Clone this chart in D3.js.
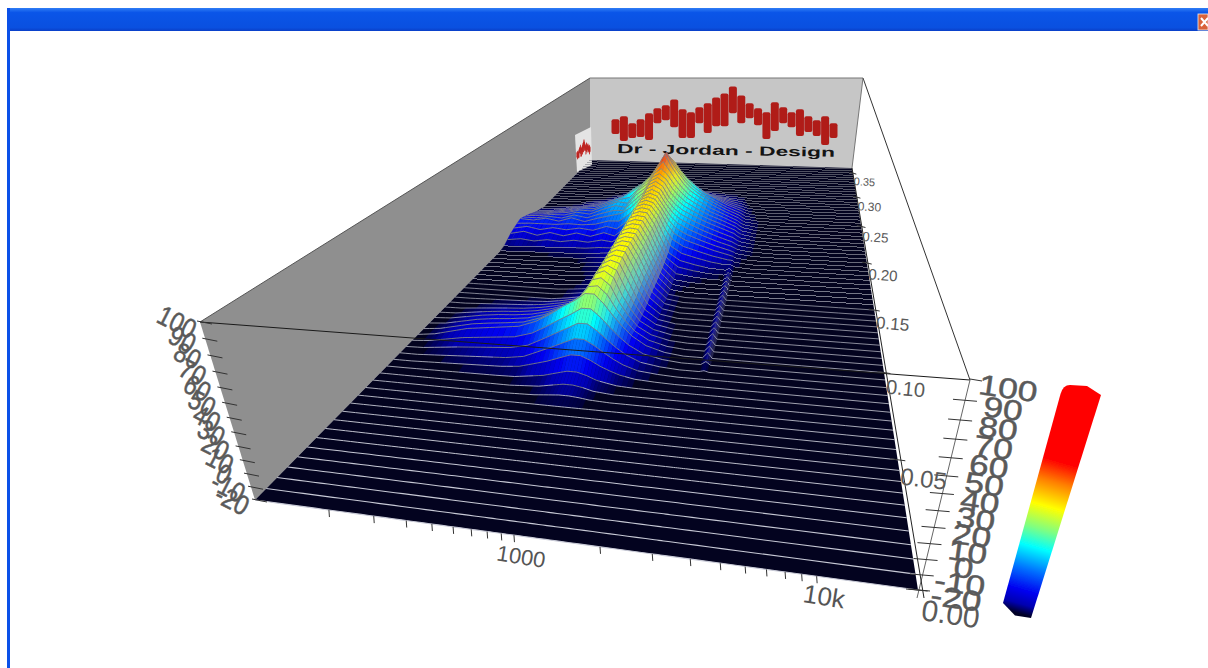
<!DOCTYPE html>
<html>
<head>
<meta charset="utf-8">
<script src="https://cdn.jsdelivr.net/npm/d3@7"></script>
<style>
  html, body { margin: 0; padding: 0; background: #fff; overflow: hidden; }
  text { font-family: "Liberation Sans", Arial, sans-serif; }
</style>
</head>
<body>
<div id="chart"></div>
<script>
var _ = -20;

// table: level (dB) per time slice (rows) and frequency (columns)
var freqColumns = [100, 124, 153, 189, 233, 288, 357, 441, 518, 607, 710, 791, 878, 978, 1085, 1205, 1341, 1574, 1945, 2402, 2966, 3130, 3300, 4077, 5600, 20000];
var sliceTimes = [0.06, 0.073, 0.087, 0.10, 0.113, 0.127, 0.14, 0.153, 0.167, 0.18, 0.193, 0.207, 0.22, 0.233, 0.247, 0.26, 0.273, 0.287, 0.30];
var levelRows = [
  [_, _, _, _, _, _, _, _, _, _, _, _, _, _, _, _, _, _, _, _, _, _, _, _, _, _],
  [_, _, _, _, _, _, _, _, -19, -18, -15, -13, -13, -15, -18, -19, _, _, _, _, _, _, _, _, _, _],
  [_, _, -19, -18, -17, -16, -15, -12, -6, 0, 6, 10, 10, 5, -1, -7, -12, -17, -19, _, _, _, _, _, _, _],
  [_, -18, -14, -10, -8, -6, -4, 2, 9, 17, 24, 30, 30, 22, 12, 3, -5, -13, -18, _, _, -15, _, _, _, _],
  [_, -19, -16, -13, -11, -10, -8, -4, 1, 7, 18, 33, 36, 30, 14, 2, -8, -15, -19, _, _, -15, _, _, _, _],
  [_, _, -19, -18, -17, -16, -14, -11, -8, -4, 6, 33, 37, 35, 20, 4, -8, -17, _, _, _, -15, _, _, _, _],
  [_, _, _, _, _, _, _, -18, -16, -13, 1, 34, 38, 37, 24, 8, -6, -17, _, _, _, -15, _, _, _, _],
  [_, _, _, _, _, _, _, -19, -18, -14, 1, 35, 38, 37, 25, 9, -6, -18, _, _, _, -15, _, _, _, _],
  [_, _, _, _, _, _, _, -19, -18, -13, 3, 36, 39, 38, 26, 10, -5, -17, -19, _, _, -15, _, _, _, _],
  [_, _, _, _, _, _, _, -18, -17, -12, 5, 37, 40, 39, 28, 12, -2, -10, -14, -17, -18, -16, -19, _, _, _],
  [_, _, -19, -19, -18, -18, -17, -16, -15, -8, 10, 38, 41, 39, 30, 16, 6, -1, -6, -11, -15, -16, -18, _, _, _],
  [-10, -6, -11, -6, -10, -5, -9, -3, -7, 3, 18, 38, 42, 39, 28, 18, 11, 5, -2, -8, -13, -15, -17, -19, _, _],
  [-5, -6, -3, -6, -1, -5, 0, 4, 7, 15, 27, 41, 45, 40, 28, 20, 14, 8, 1, -5, -11, -14, -16, -19, _, _],
  [-10, -9, -7, -6, -2, -3, 4, 10, 7, 24, 32, 44, 48, 42, 32, 24, 17, 10, 2, -4, -11, -14, -16, -19, _, _],
  [-17, -16, -14, -11, -8, -5, 2, 8, 17, 24, 36, 48, 62, 48, 38, 28, 20, 12, 3, -5, -12, -15, -17, -19, _, _],
  [_, _, -19, -18, -15, -12, -8, -1, 10, 19, 28, 40, 50, 42, 32, 24, 17, 8, 0, -8, -14, -16, -18, _, _, _],
  [_, _, _, _, -19, -18, -15, -10, -3, 6, 14, 22, 28, 24, 18, 12, 6, -2, -8, -13, -17, -18, -19, _, _, _],
  [_, _, _, _, _, _, -19, -18, -15, -10, -6, -2, 0, -2, -6, -9, -12, -15, -17, -18, -19, _, _, _, _, _],
  [_, _, _, _, _, _, _, _, _, _, _, _, _, _, _, _, _, _, _, _, _, _, _, _, _, _]
];

// axes
var levelTicks = [100, 90, 80, 70, 60, 50, 40, 30, 20, 10, 0, -10, -20];
var timeTicks = [0.05, 0.10, 0.15, 0.20, 0.25, 0.30, 0.35];
var timeLabels = ["0.05", "0.10", "0.15", "0.20", "0.25", "0.30", "0.35"];
var freqTicks = [200, 300, 400, 500, 600, 700, 800, 900, 1000, 2000, 3000, 4000, 5000, 6000, 7000, 8000, 9000, 10000];
var freqLabels = [[1000, "1000", 22], [10000, "10k", 26]];
var floorTimes = d3.range(0, 73).map(function (i) { return i * 0.005; });

// colour bar
var colorLevels = [-20, -15, -8, 3, 15, 25, 37, 50, 61, 100];
var colorValues = ["#000028", "#0000b0", "#0000f0", "#0070ff", "#00ffff", "#80ff80", "#ffff00", "#ff8000", "#ff0000", "#ff0000"];

// logo on the back wall
var logoBarLow = [11, 4, 7, 8, 5, 22, 25, 18, 7, 7, 22, 12, 19, 19, 32, 22, 27, 20, 6, 14, 22, 18, 9, 13, 9, 0, 7];
var logoBarHigh = [26, 29, 22, 26, 32, 37, 40, 46, 36, 33, 38, 42, 48, 52, 59, 50, 42, 37, 33, 43, 38, 33, 36, 29, 25, 29, 22];
var logoText = "Dr - Jordan - Design";

var svg = d3.select("#chart").append("svg").attr("width", 1208).attr("height", 668);

var defs = svg.append("defs");
defs.append("filter").attr("id", "soft")
  .attr("x", "-5%").attr("y", "-5%").attr("width", "110%").attr("height", "110%")
  .append("feGaussianBlur").attr("stdDeviation", 0.6);
defs.append("filter").attr("id", "softer")
  .append("feGaussianBlur").attr("stdDeviation", 0.45);

var titleGrad = defs.append("linearGradient").attr("id", "titleGrad").attr("x1", 0).attr("y1", 0).attr("x2", 0).attr("y2", 1);
titleGrad.append("stop").attr("offset", 0).attr("stop-color", "#2f7df5");
titleGrad.append("stop").attr("offset", 0.2).attr("stop-color", "#0a55e8");
titleGrad.append("stop").attr("offset", 0.85).attr("stop-color", "#0a50e0");
titleGrad.append("stop").attr("offset", 1).attr("stop-color", "#0a3fc8");

// window frame
svg.append("rect").attr("x", 7).attr("y", 8).attr("width", 1201).attr("height", 23).attr("fill", "url(#titleGrad)");
svg.append("rect").attr("x", 7).attr("y", 8).attr("width", 3).attr("height", 660).attr("fill", "#0a50e8");
svg.append("rect").attr("x", 1198).attr("y", 14).attr("width", 10).attr("height", 16).attr("fill", "#d9623a").attr("stroke", "#eee").attr("stroke-width", 0.8);
svg.append("path").attr("d", "M1201,18L1208,26M1208,18L1201,26").attr("stroke", "#fff").attr("stroke-width", 2);

// scales
var uScale = d3.scaleLog().domain([100, 20000]).range([0, 1]);
var vScale = d3.scaleLinear().domain([0, 0.362]).range([0, 1]);
var zScale = d3.scaleLinear().domain([-20, 100]).range([0, 1]);
var colorScale = d3.scaleLinear().domain(colorLevels).range(colorValues).clamp(true);

// maps the unit square onto a screen quad
function quadMap(p00, p10, p11, p01) {
  var dx1 = p10[0] - p11[0], dx2 = p01[0] - p11[0], sx = p00[0] - p10[0] + p11[0] - p01[0];
  var dy1 = p10[1] - p11[1], dy2 = p01[1] - p11[1], sy = p00[1] - p10[1] + p11[1] - p01[1];
  var det = dx1 * dy2 - dx2 * dy1;
  var g = (sx * dy2 - dx2 * sy) / det, h = (dx1 * sy - sx * dy1) / det;
  var a = p10[0] - p00[0] + g * p10[0], b = p01[0] - p00[0] + h * p01[0];
  var d = p10[1] - p00[1] + g * p10[1], e = p01[1] - p00[1] + h * p01[1];
  return function (u, v) {
    var w = g * u + h * v + 1;
    return [(a * u + b * v + p00[0]) / w, (d * u + e * v + p00[1]) / w];
  };
}

var floorAt = quadMap([255, 500], [918, 590], [852, 168], [590, 160]);
var roofAt = quadMap([200, 322], [970, 380], [863, 78], [590, 78]);

function project(freq, time, level) {
  var u = uScale(freq), v = vScale(time), s = zScale(level);
  var f = floorAt(u, v), r = roofAt(u, v);
  var k = s * 0.85 / (s * 0.85 + 1 - s);
  return [f[0] + (r[0] - f[0]) * k, f[1] + (r[1] - f[1]) * k];
}

// corner points
var maxTime = vScale.domain()[1], minFreq = 100, maxFreq = 20000;
var FL = project(minFreq, 0, -20), FR = project(maxFreq, 0, -20), BR = project(maxFreq, maxTime, -20), BL = project(minFreq, maxTime, -20);
var TFL = project(minFreq, 0, 100), TFR = project(maxFreq, 0, 100), TBR = project(maxFreq, maxTime, 100), TBL = project(minFreq, maxTime, 100);

var polygon = d3.line();

// walls and floor
svg.append("path").attr("d", polygon([TFL, TBL, BL, FL]) + "Z").attr("fill", "#8f8f8f");
svg.append("path").attr("d", polygon([TBL, TBR, BR, BL]) + "Z").attr("fill", "#c6c6c6");
svg.append("path").attr("d", polygon([FL, FR, BR, BL]) + "Z").attr("fill", "#03031f");

// logo
var logo = svg.append("g").attr("id", "logo");
var logoX = d3.scaleLinear().domain([0, logoBarLow.length - 1]).range([615.5, 833.5]);
var logoY = d3.scaleLinear().domain([0, 60]).range([145, 85.5]);
function drawLogoBars(sel, x, y, w) {
  sel.selectAll("rect.bar")
    .data(logoBarLow)
    .enter()
    .append("rect")
    .attr("class", "bar")
    .attr("x", function (d, i) { return x(i) - w / 2; })
    .attr("width", w)
    .attr("y", function (d, i) { return y(logoBarHigh[i]); })
    .attr("height", function (d, i) { return y(d) - y(logoBarHigh[i]); })
    .attr("rx", w * 0.25)
    .attr("fill", "#b01c18");
}
drawLogoBars(logo, logoX, logoY, 8);
logo.append("text")
  .attr("x", 617)
  .attr("y", 153)
  .attr("transform", "rotate(1 617 153)")
  .attr("textLength", 218)
  .attr("lengthAdjust", "spacingAndGlyphs")
  .attr("font-size", 13)
  .attr("font-weight", "bold")
  .attr("fill", "#141414")
  .text(logoText);

// same logo, small, on the left wall
svg.append("path").attr("d", "M575,135L591,127L592,165L577,172Z").attr("fill", "#e4e4e4");
var miniLogo = svg.append("g").attr("transform", "matrix(0.06 -0.03 0 0.28 540 137.85)");
drawLogoBars(miniLogo, logoX, logoY, 8);
miniLogo.selectAll("rect.bar").attr("stroke", "#c0201c").attr("stroke-width", 6);

// surface, far slices first so the near ones cover them
var uColumns = freqColumns.map(function (f) { return uScale(f); });
var timeIndex = d3.scaleLinear().domain(sliceTimes).range(d3.range(sliceTimes.length)).clamp(true);
var columnAt = freqColumns.map(function (f, j) {
  return d3.piecewise(d3.interpolateNumber, levelRows.map(function (r) { return r[j]; }));
});
function levelAtTime(j, t) { return columnAt[j](timeIndex(t) / (sliceTimes.length - 1)); }

var sampleSteps = 3;
var sampleFreqs = [];
freqColumns.forEach(function (f, j) {
  if (j === freqColumns.length - 1) { sampleFreqs.push({ f: f, j: j, k: 0 }); return; }
  d3.range(sampleSteps).forEach(function (k) {
    sampleFreqs.push({ f: uScale.invert(uColumns[j] + (uColumns[j + 1] - uColumns[j]) * k / sampleSteps), j: j, k: k });
  });
});
function sliceLevels(t) {
  return sampleFreqs.map(function (s) {
    var a = levelAtTime(s.j, t);
    if (s.k === 0) return a;
    return a + (levelAtTime(s.j + 1, t) - a) * s.k / sampleSteps;
  });
}

var surface = svg.append("g").attr("id", "surface").attr("filter", "url(#soft)");
var slices = floorTimes.map(function (t) {
  var lv = sliceLevels(t);
  return { t: t, levels: lv, pts: sampleFreqs.map(function (s, i) { return project(s.f, t, lv[i]); }) };
});

function quadColor(a, b, i) {
  var m = (a.levels[i] + a.levels[i + 1] + b.levels[i] + b.levels[i + 1]) / 4;
  var du = uScale(sampleFreqs[i + 1].f) - uScale(sampleFreqs[i].f);
  var slope = ((a.levels[i + 1] + b.levels[i + 1]) - (a.levels[i] + b.levels[i])) / 2 / du;
  var shade = Math.max(0, Math.min(0.7, (-slope - 300) / 900));
  return d3.interpolateRgb(colorScale(m), "#a8a890")(shade);
}

var hillLimit = -16;
var xOf = function (d) { return d.p[0]; }, yOf = function (d) { return d.p[1]; };
// both lines share the sample where the slice leaves the floor, so there is no gap
var lineHill = d3.line().defined(function (d) { return d.l > hillLimit || d.prev > hillLimit || d.next > hillLimit; }).x(xOf).y(yOf);
var lineFloor = d3.line().defined(function (d) { return d.l <= hillLimit; }).x(xOf).y(yOf);

function depth(t) { return 1 - 0.1661 + 1.4887 * vScale(t); }
var floorLineColor = d3.scaleLinear().domain([0, 0.15, 0.36]).range(["#c8cad6", "#bcbec8", "#80828a"]);

d3.range(slices.length - 1, -1, -1).forEach(function (n) {
  var far = slices[n], near = slices[n - 1];
  var g = surface.append("g");
  if (near) {
    var quads = d3.range(sampleFreqs.length - 1).filter(function (i) {
      return Math.max(far.levels[i], far.levels[i + 1], near.levels[i], near.levels[i + 1]) > -18.5;
    });
    g.selectAll("path.q")
      .data(quads)
      .enter()
      .append("path")
      .attr("class", "q")
      .attr("d", function (i) { return polygon([far.pts[i], far.pts[i + 1], near.pts[i + 1], near.pts[i]]) + "Z"; })
      .attr("fill", function (i) { return quadColor(far, near, i); })
      .attr("stroke", function (i) { return quadColor(far, near, i); })
      .attr("stroke-width", 0.4);
  }
  var row = far.pts.map(function (p, i) {
    return { p: p, l: far.levels[i], prev: far.levels[i - 1], next: far.levels[i + 1] };
  });
  var w = Math.max(0.6, 0.95 / depth(far.t));
  g.append("path").attr("d", lineFloor(row)).attr("fill", "none")
    .attr("stroke", floorLineColor(far.t)).attr("stroke-width", w)
    .attr("shape-rendering", far.t > 0.15 ? "crispEdges" : "auto");
  g.append("path").attr("d", lineHill(row)).attr("fill", "none").attr("stroke", "#7c7e88").attr("stroke-width", 0.9);
});

var axes = svg.append("g").attr("id", "axes");
function seg(a, b, color, width) {
  axes.append("path").attr("d", polygon([a, b])).attr("stroke", color).attr("stroke-width", width).attr("fill", "none");
}

// box edges
seg(TFL, TBL, "#555", 1);
seg(TBL, TBR, "#777", 1);
seg(TFL, TFR, "#1a1a1a", 1);
seg(TBR, TFR, "#333", 1);
seg(TBR, BR, "#777", 1);
seg(TFR, [FR[0] - 1, FR[1] + 8], "#666", 1);
seg(BR, [FR[0] + 6, FR[1] + 8], "#222", 1);

// frequency axis
freqTicks.forEach(function (f) {
  var p = project(f, 0, -20);
  seg(p, [p[0] + 0.5, p[1] + 7], "#333", 1);
});
axes.selectAll("text.freq")
  .data(freqLabels)
  .enter()
  .append("text")
  .attr("class", "freq")
  .attr("text-anchor", "middle")
  .attr("font-size", function (d) { return d[2]; })
  .attr("fill", "#555")
  .attr("transform", function (d) {
    var p = project(d[0], 0, -20);
    return "translate(" + (p[0] + 6) + "," + (p[1] + 29) + ") rotate(9)";
  })
  .text(function (d) { return d[1]; });

// level axes on both sides
levelTicks.forEach(function (l) {
  var a = project(minFreq, 0, l), b = project(maxFreq, 0, l);
  seg([a[0] - 3, a[1] - 1], [a[0] + 12, a[1] + 2], "#333", 1);
  seg([b[0] - (l === 100 ? 0 : 12), b[1] - 1], [b[0] + 12, b[1] + 1], "#333", 1);
});
axes.selectAll("text.lvlL")
  .data(levelTicks)
  .enter()
  .append("text")
  .attr("class", "lvlL")
  .attr("text-anchor", "middle")
  .attr("font-size", 29)
  .attr("fill", "#5a5a5a")
  .attr("stroke", "#5a5a5a")
  .attr("stroke-width", 0.5)
  .attr("transform", function (d) {
    var p = project(minFreq, 0, d);
    return "translate(" + (p[0] - 23) + "," + p[1] + ") rotate(27) scale(0.82,0.95) translate(0,10)";
  })
  .text(function (d) { return d; });
axes.selectAll("text.lvlR")
  .data(levelTicks)
  .enter()
  .append("text")
  .attr("class", "lvlR")
  .attr("text-anchor", "middle")
  .attr("font-size", 31)
  .attr("fill", "#5a5a5a")
  .attr("stroke", "#5a5a5a")
  .attr("stroke-width", 0.5)
  .attr("transform", function (d) {
    var p = project(maxFreq, 0, d);
    return "translate(" + (p[0] + 38) + "," + (p[1] + 9) + ") rotate(8) scale(1.14,0.92) translate(0,10)";
  })
  .text(function (d) { return d; });

// time axis
timeTicks.concat([0]).forEach(function (t) {
  var p = project(maxFreq, t, -20);
  var r = 8 / depth(t);
  seg([p[0] - r, p[1] - 1], [p[0] + r, p[1] + 1], "#333", 1);
});
axes.selectAll("text.time")
  .data(timeLabels.concat(["0.00"]))
  .enter()
  .append("text")
  .attr("class", "time")
  .attr("text-anchor", "middle")
  .attr("fill", "#5a5a5a")
  .attr("font-size", function (d) { return 25 / depth(+d); })
  .attr("transform", function (d) {
    var t = +d, p = project(maxFreq, t, -20), k = 1 / depth(t);
    return "translate(" + (p[0] + 26 * k) + "," + (p[1] + 28.5 * k) + ") rotate(" + 7 * k + ")";
  })
  .text(function (d) { return d; });

// colour bar: column drawn on its level scale
var barGrad = defs.append("linearGradient").attr("id", "barGrad").attr("gradientUnits", "userSpaceOnUse")
  .attr("x1", 1014).attr("y1", 612).attr("x2", 1078).attr("y2", 388);
colorLevels.forEach(function (l, i) {
  barGrad.append("stop").attr("offset", zScale(l)).attr("stop-color", colorValues[i]);
});
svg.append("path")
  .attr("d", "M1003,603L1060.5,394Q1063,385 1070,385L1087,386L1101,395L1031,618L1015,615.5Z")
  .attr("fill", "url(#barGrad)")
  .attr("filter", "url(#softer)");
</script>
</body>
</html>
